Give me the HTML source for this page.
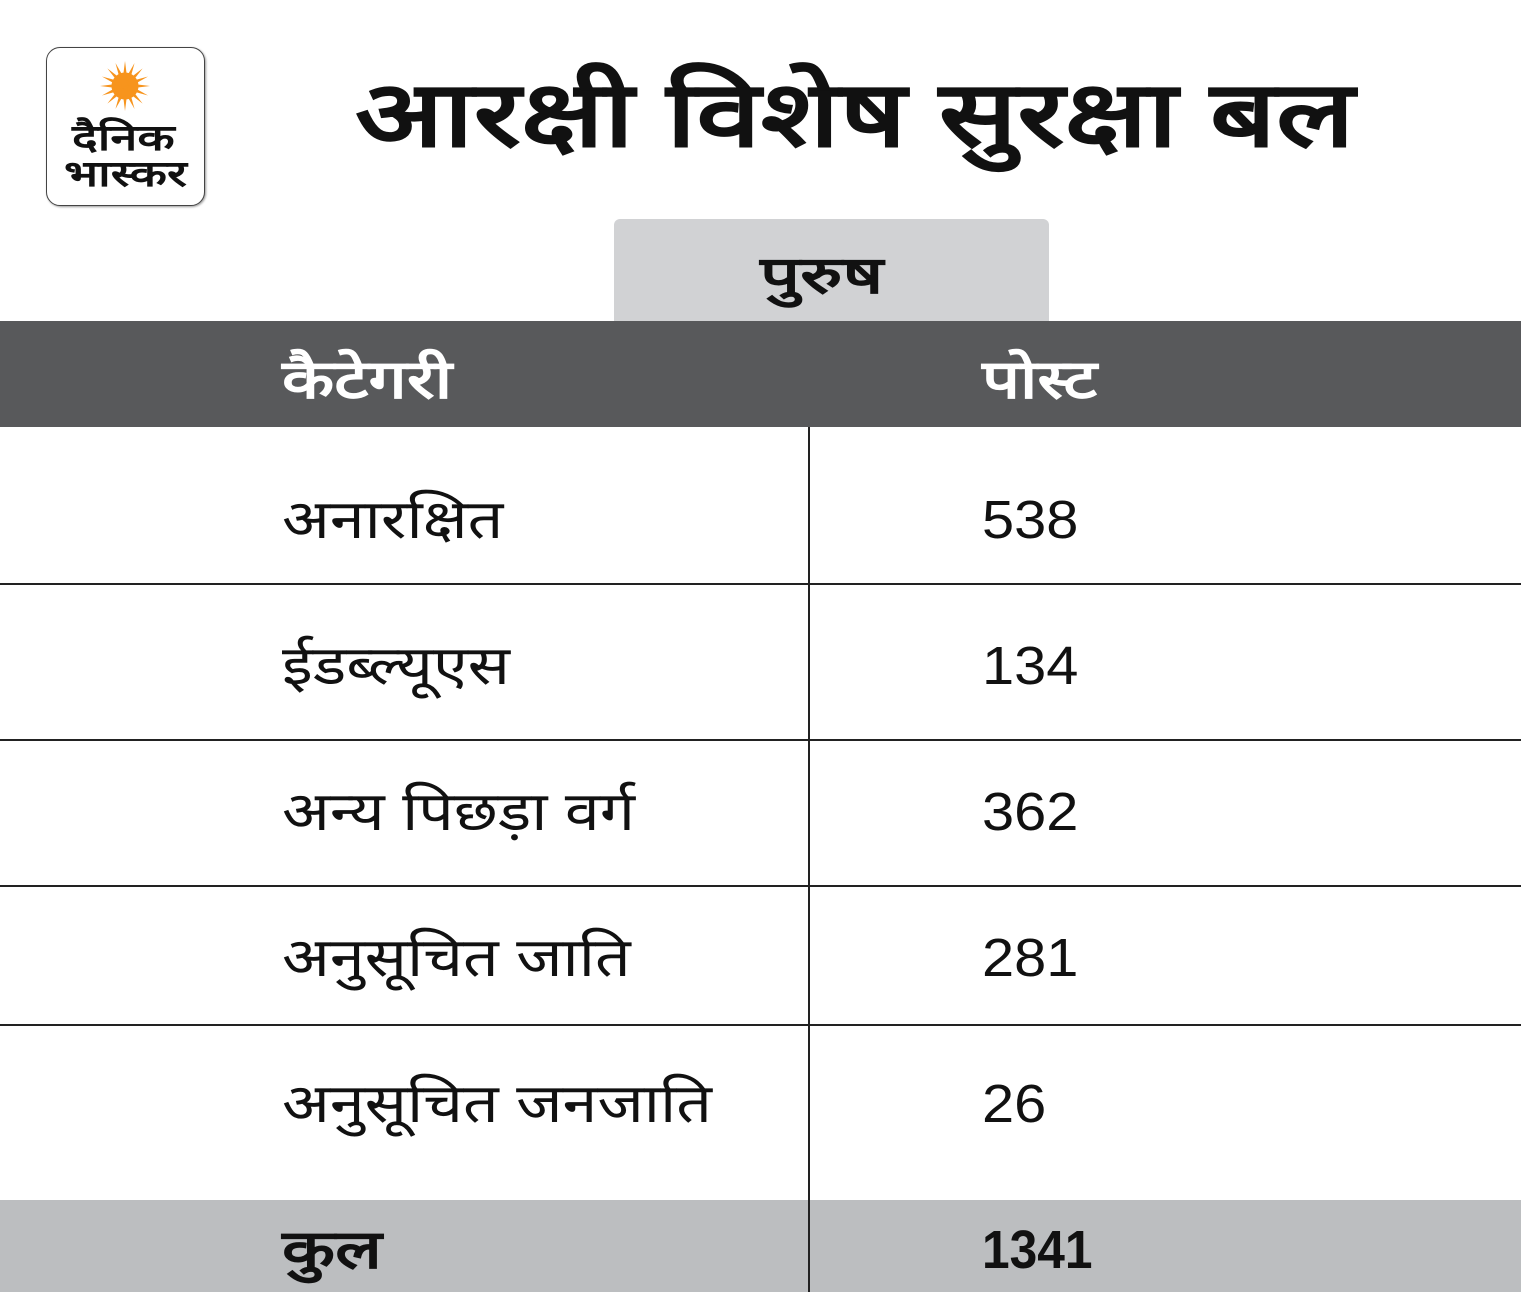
<!DOCTYPE html>
<html><head><meta charset="utf-8"><style>
body{margin:0;width:1521px;height:1292px;background:#fff;position:relative;overflow:hidden;font-family:"Liberation Sans","DejaVu Sans",sans-serif;}
.a{position:absolute}
.s{transform-origin:0 50%;white-space:nowrap}
.logo{left:46px;top:47px;width:157px;height:157px;border:1.5px solid #444;border-radius:14px;box-shadow:1px 1px 2px #999;background:#fff}
.lt{font-weight:bold;font-size:36px;line-height:36px;color:#111;white-space:nowrap;transform-origin:0 50%}
.title{left:355px;top:60px;font-size:92px;font-weight:bold;line-height:110px;color:#111;white-space:nowrap;transform-origin:0 50%;transform:scaleX(1.26)}
.tab{left:614px;top:219px;width:435px;height:102px;background:#d1d2d4;border-radius:6px 6px 0 0}
.hdr{left:0;top:321px;width:1521px;height:106px;background:#58595b}
.h{top:340px;font-size:54px;font-weight:bold;color:#fff}
.line{left:0;width:1521px;height:2px;background:#222}
.vl{left:808px;top:427px;width:2px;height:865px;background:#222}
.t{font-size:54px;color:#111;line-height:60px}
.d{transform:scaleX(1.16)}
.n{transform:scaleX(1.07)}
.tot{left:0;top:1200px;width:1521px;height:92px;background:#bcbec0}
</style></head><body>
<div class="a logo"></div>
<svg class="a" style="left:99px;top:60px" width="52" height="52" viewBox="-25 -25 50 50">
<g fill="#f7941d">
<circle r="13"/>
<g id="r"><polygon points="-3,0 3,0 0,-24"/></g>
<use href="#r" transform="rotate(22.5)"/><use href="#r" transform="rotate(45)"/><use href="#r" transform="rotate(67.5)"/>
<use href="#r" transform="rotate(90)"/><use href="#r" transform="rotate(112.5)"/><use href="#r" transform="rotate(135)"/>
<use href="#r" transform="rotate(157.5)"/><use href="#r" transform="rotate(180)"/><use href="#r" transform="rotate(202.5)"/>
<use href="#r" transform="rotate(225)"/><use href="#r" transform="rotate(247.5)"/><use href="#r" transform="rotate(270)"/>
<use href="#r" transform="rotate(292.5)"/><use href="#r" transform="rotate(315)"/><use href="#r" transform="rotate(337.5)"/>
</g></svg>
<div class="a lt" style="left:72px;top:120px;transform:scaleX(1.35)">दैनिक</div>
<div class="a lt" style="left:64px;top:156px;transform:scaleX(1.35)">भास्कर</div>
<div class="a title">आरक्षी विशेष सुरक्षा बल</div>
<div class="a tab"></div>
<div class="a s" style="left:760px;top:238px;font-size:52px;font-weight:bold;color:#111;transform:scaleX(1.36)">पुरुष</div>
<div class="a hdr"></div>
<div class="a h s" style="left:282px;transform:scaleX(1.26)">कैटेगरी</div>
<div class="a h s" style="left:982px;transform:scaleX(1.24)">पोस्ट</div>
<div class="a tot"></div>
<div class="a vl"></div>
<div class="a line" style="top:583px"></div>
<div class="a line" style="top:739px"></div>
<div class="a line" style="top:885px"></div>
<div class="a line" style="top:1024px"></div>
<div class="a t s d" style="left:282px;top:490px">अनारक्षित</div><div class="a t s n" style="left:982px;top:490px">538</div>
<div class="a t s d" style="left:282px;top:636px">ईडब्ल्यूएस</div><div class="a t s n" style="left:982px;top:636px">134</div>
<div class="a t s d" style="left:282px;top:782px">अन्य पिछड़ा वर्ग</div><div class="a t s n" style="left:982px;top:782px">362</div>
<div class="a t s d" style="left:282px;top:928px">अनुसूचित जाति</div><div class="a t s n" style="left:982px;top:928px">281</div>
<div class="a t s d" style="left:282px;top:1074px">अनुसूचित जनजाति</div><div class="a t s n" style="left:982px;top:1074px">26</div>
<div class="a t s" style="left:282px;top:1220px;font-weight:bold;transform:scaleX(1.28)">कुल</div><div class="a t s" style="left:982px;top:1220px;font-weight:bold;transform:scaleX(0.92)">1341</div>
</body></html>
